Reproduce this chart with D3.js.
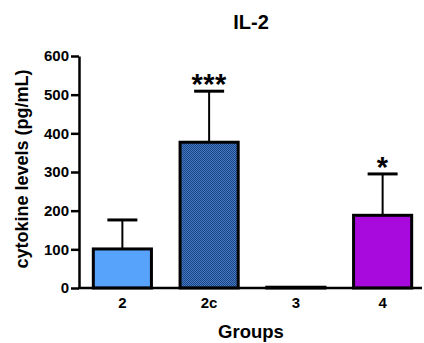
<!DOCTYPE html>
<html>
<head>
<meta charset="utf-8">
<script src="https://cdn.jsdelivr.net/npm/d3@7"></script>
<style>
  html, body { margin: 0; padding: 0; background: #fff; }
  svg { display: block; font-family: "Liberation Sans", Arial, sans-serif; }
</style>
</head>
<body>
<svg id="chart" width="424" height="343"></svg>
<script>
// IL-2 cytokine levels per group (mean with SD error bar)
const groups = ["2", "2c", "3", "4"];
const means = [101, 377, 2, 188];
const errors = [75, 132, 0, 107];
const stars = ["", "***", "", "*"];
const yTicks = [0, 100, 200, 300, 400, 500, 600];

const svg = d3.select("#chart");
const plotLeft = 79, plotRight = 426, plotTop = 56, plotBottom = 288;

const x = d3.scaleBand().domain(groups).range([plotLeft, plotRight]).paddingInner(0.33).paddingOuter(0.165);
const y = d3.scaleLinear().domain([0, 600]).range([plotBottom, plotTop]);

// Fill styles: plain blue, dotted dark blue, empty, purple
const defs = svg.append("defs");
const pat = defs.append("pattern").attr("id", "dots")
  .attr("width", 2).attr("height", 2).attr("patternUnits", "userSpaceOnUse");
pat.append("rect").attr("width", 2).attr("height", 2).attr("fill", "#4478c2");
pat.append("rect").attr("width", 1).attr("height", 1).attr("fill", "#1c4584");
pat.append("rect").attr("x", 1).attr("y", 1).attr("width", 1).attr("height", 1).attr("fill", "#1c4584");
const fills = ["#57a2fb", "url(#dots)", "#ffffff", "#a80ade"];

// Error bars (drawn first so the bar covers the stem base)
const eb = svg.append("g");
groups.forEach((g, i) => {
  if (errors[i] <= 0) return;
  const cx = x(g) + x.bandwidth() / 2;
  eb.append("line").attr("x1", cx).attr("x2", cx)
    .attr("y1", y(means[i])).attr("y2", y(means[i] + errors[i]))
    .attr("stroke", "#000").attr("stroke-width", 2);
  eb.append("line").attr("x1", cx - 15).attr("x2", cx + 15)
    .attr("y1", y(means[i] + errors[i])).attr("y2", y(means[i] + errors[i]))
    .attr("stroke", "#000").attr("stroke-width", 3);
});

// Bars
svg.append("g").selectAll("rect").data(groups).join("rect")
  .attr("x", d => x(d))
  .attr("y", (d, i) => y(means[i]))
  .attr("width", x.bandwidth())
  .attr("height", (d, i) => y(0) - y(means[i]))
  .attr("fill", (d, i) => fills[i])
  .attr("stroke", "#000")
  .attr("stroke-width", 3);

// Significance markers
svg.append("g").selectAll("text").data(groups).join("text")
  .attr("x", d => x(d) + x.bandwidth() / 2)
  .attr("y", (d, i) => y(means[i] + errors[i]) + 3)
  .attr("text-anchor", "middle")
  .attr("font-size", 29)
  .attr("font-weight", "bold")
  .attr("letter-spacing", 0.5)
  .text((d, i) => stars[i]);

// Y axis
const yAxis = svg.append("g").attr("transform", `translate(${plotLeft},0)`)
  .call(d3.axisLeft(y).tickValues(yTicks).tickSize(8).tickPadding(2).tickSizeOuter(0));
yAxis.select(".domain").attr("stroke", "#000").attr("stroke-width", 2.5);
yAxis.selectAll(".tick line").attr("stroke", "#000").attr("stroke-width", 2.5);
yAxis.selectAll(".tick text").attr("font-size", 15).attr("font-weight", "bold")
  .attr("font-family", "'Liberation Sans', Arial, sans-serif").attr("fill", "#000");

// X axis
const xAxis = svg.append("g").attr("transform", `translate(0,${plotBottom})`)
  .call(d3.axisBottom(x).tickSize(0).tickPadding(9));
xAxis.select(".domain").attr("d", `M${plotLeft - 1},0H422`).attr("stroke", "#000").attr("stroke-width", 2.5);
xAxis.selectAll(".tick text").attr("font-size", 15).attr("font-weight", "bold")
  .attr("font-family", "'Liberation Sans', Arial, sans-serif").attr("fill", "#000");

// Titles
svg.append("text").attr("x", 251).attr("y", 29).attr("text-anchor", "middle")
  .attr("font-size", 20).attr("font-weight", "bold").text("IL-2");
svg.append("text").attr("x", 251).attr("y", 338).attr("text-anchor", "middle")
  .attr("font-size", 18.5).attr("font-weight", "bold").text("Groups");
svg.append("text").attr("transform", "translate(28,169) rotate(-90)")
  .attr("text-anchor", "middle").attr("font-size", 18).attr("font-weight", "bold")
  .text("cytokine levels (pg/mL)");
</script>
</body>
</html>
